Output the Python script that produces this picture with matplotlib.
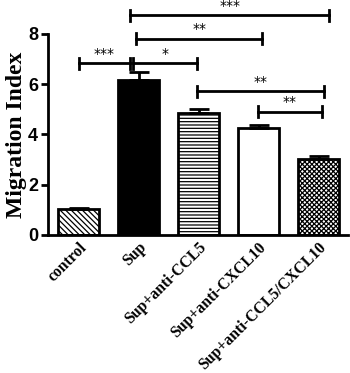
import numpy as np
import matplotlib
matplotlib.use("Agg")
import matplotlib.pyplot as plt
import matplotlib.transforms as mtransforms

# データ
groups = ["control", "Sup", "Sup+anti-CCL5", "Sup+anti-CXCL10", "Sup+anti-CCL5/CXCL10"]
means = [1.02, 6.17, 4.85, 4.27, 3.03]
errors = [0.05, 0.33, 0.15, 0.10, 0.12]

# 有意差の括弧 (x1, x2, y, label)
brackets = [
    (0.00, 0.86, 6.84, "***"),
    (0.91, 1.97, 6.84, "*"),
    (0.86, 4.18, 8.74, "***"),
    (0.96, 3.06, 7.80, "**"),
    (1.97, 4.09, 5.71, "**"),
    (2.99, 4.06, 4.91, "**"),
]

plt.rcParams["hatch.linewidth"] = 0.9

fig = plt.figure(figsize=(3.5, 3.73), dpi=100)
ax = fig.add_axes([0.137, 0.37, 0.857, 0.539])

x = np.arange(len(groups))
colors = ["white", "black", "white", "white", "white"]
hatches = ["\\\\\\\\\\\\", None, "-----", None, "xxxxxxx"]
bars = ax.bar(x, means, width=0.68, color=colors, edgecolor="black", linewidth=2, zorder=2)
for b, h in zip(bars, hatches):
    if h:
        b.set_hatch(h)

ax.errorbar(x, means, yerr=[np.zeros(len(means)), errors], fmt="none", ecolor="black",
            elinewidth=2, capsize=7, capthick=2, zorder=3)

# 括弧
tick = 0.22
for x1, x2, y, lab in brackets:
    ax.plot([x1, x2], [y, y], color="black", lw=2, clip_on=False, zorder=4)
    ax.plot([x1, x1], [y - tick, y + tick], color="black", lw=2, clip_on=False, zorder=4)
    ax.plot([x2, x2], [y - tick, y + tick], color="black", lw=2, clip_on=False, zorder=4)
    ax.text((x1 + x2) / 2, y + 0.1, lab, ha="center", va="bottom", fontsize=10,
            family="DejaVu Sans", clip_on=False)

ax.set_xlim(-0.51, 4.49)
ax.set_ylim(0, 8)
ax.set_yticks([0, 2, 4, 6, 8])
ax.set_yticklabels(["0", "2", "4", "6", "8"], fontsize=13, fontweight="bold", family="Liberation Sans")
ax.set_xticks(x)
ax.set_xticklabels(groups, rotation=45, ha="right", rotation_mode="anchor",
                   fontsize=11.3, fontweight="bold", family="Liberation Serif")
offset = mtransforms.ScaledTranslation(0.1, 0.0, fig.dpi_scale_trans)
for lbl in ax.get_xticklabels():
    lbl.set_transform(lbl.get_transform() + offset)
ax.tick_params(axis="x", length=0, pad=3)
ax.tick_params(axis="y", width=2, length=5, pad=2)
ax.set_ylabel("Migration Index", fontsize=17, fontweight="bold", family="Liberation Serif", labelpad=1)

for s in ["top", "right"]:
    ax.spines[s].set_visible(False)
for s in ["left", "bottom"]:
    ax.spines[s].set_linewidth(2)

fig.savefig("out.png", dpi=100)
